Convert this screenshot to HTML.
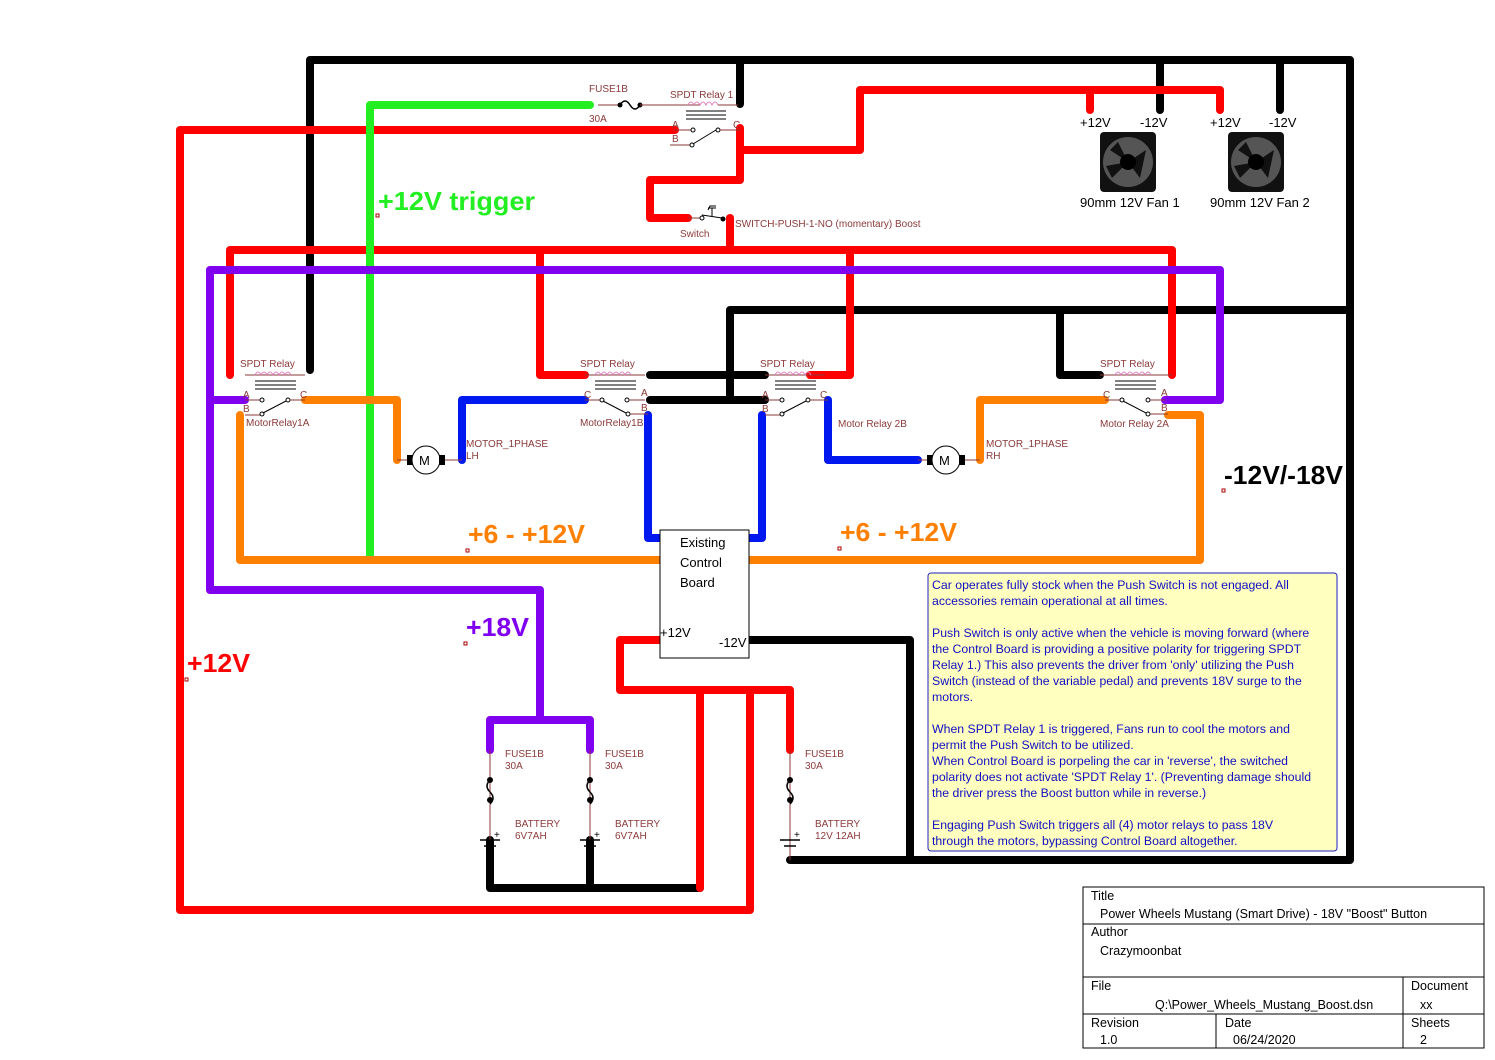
<!DOCTYPE html>
<html><head><meta charset="utf-8"><style>
html,body{margin:0;padding:0;background:#fff;}
svg{display:block;}
.w{fill:none;stroke-width:8;stroke-linecap:round;stroke-linejoin:round;}
.t{fill:#8b3a3a;font-family:"Liberation Sans",sans-serif;font-size:10px;}
.thin{stroke:#8b3a3a;stroke-width:1;fill:none;}
.big{font-family:"Liberation Sans",sans-serif;font-weight:bold;font-size:26px;}
.n{fill:#1010c0;font-family:"Liberation Sans",sans-serif;font-size:12.3px;}
.tb{font-family:"Liberation Sans",sans-serif;font-size:12.5px;fill:#000;}
</style></head><body>
<svg width="1495" height="1060" viewBox="0 0 1495 1060" xmlns="http://www.w3.org/2000/svg">
<rect width="1495" height="1060" fill="#fff"/>

<g class="w" stroke="#000">
<polyline points="310,370 310,60 1350,60 1350,860 790,860"/>
<polyline points="740,60 740,104"/>
<polyline points="1160,60 1160,110"/>
<polyline points="1280,60 1280,110"/>
<polyline points="1350,310 730,310 730,400"/>
<polyline points="1060,310 1060,375 1100,375"/>
<polyline points="650,375 765,375"/>
<polyline points="650,400 765,400"/>
<polyline points="490,840 490,888 700,888"/>
<polyline points="590,840 590,888"/>
<polyline points="748,640 910,640 910,860"/>
</g>

<g class="w" stroke="#f00">
<polyline points="675,130 180,130 180,910 750,910 750,690"/>
<polyline points="740,128 740,150 860,150 860,90 1220,90 1220,110"/>
<polyline points="1090,90 1090,110"/>
<polyline points="740,150 740,180 650,180 650,218 688,218"/>
<polyline points="730,218 730,250"/>
<polyline points="230,375 230,250 1172,250 1172,375"/>
<polyline points="540,250 540,375 585,375"/>
<polyline points="850,250 850,375 810,375"/>
<polyline points="662,640 620,640 620,690 790,690 790,750"/>
<polyline points="700,690 700,888"/>
</g>

<g class="w" stroke="#22ee22">
<polyline points="590,105 370,105 370,556"/>
</g>

<g class="w" stroke="#8000f0">
<polyline points="245,400 210,400"/>
<polyline points="1165,400 1220,400 1220,270 210,270 210,590 540,590 540,720"/>
<polyline points="490,750 490,720 590,720 590,750"/>
</g>

<g class="w" stroke="#ff8000">
<polyline points="240,415 240,560 662,560"/>
<polyline points="305,400 397,400 397,460"/>
<polyline points="1105,400 980,400 980,460"/>
<polyline points="1168,415 1200,415 1200,560 750,560"/>
</g>

<g class="w" stroke="#0018f0">
<polyline points="585,400 462,400 462,460"/>
<polyline points="648,415 648,538 662,538"/>
<polyline points="762,415 762,538 750,538"/>
<polyline points="828,400 828,460 918,460"/>
</g>

<g>
<line x1="598" y1="105" x2="620" y2="105" class="thin"/>
<path d="M620,105 q5,-8 10,0 q5,8 10,0" stroke="#000" stroke-width="1.5" fill="none"/>
<circle cx="620" cy="105" r="2.5" fill="#000"/><circle cx="640" cy="105" r="2.5" fill="#000"/>
<line x1="640" y1="105" x2="700" y2="105" class="thin"/>
<path d="M688,105 q3,-6 6,0 q3,-6 6,0 q3,-6 6,0 q3,-6 6,0 q3,-6 6,0" stroke="#e080c0" fill="none"/>
<line x1="718" y1="105" x2="738" y2="105" class="thin"/>
<line x1="686" y1="111" x2="726" y2="111" stroke="#000"/>
<line x1="686" y1="115" x2="726" y2="115" stroke="#000"/>
<line x1="686" y1="119" x2="726" y2="119" stroke="#000"/>
<line x1="675" y1="130" x2="692" y2="130" class="thin"/><circle cx="693" cy="130" r="2" fill="#fff" stroke="#000"/>
<line x1="670" y1="145" x2="690" y2="145" class="thin"/><circle cx="692" cy="145" r="2" fill="#fff" stroke="#000"/>
<line x1="693" y1="144" x2="716" y2="130" stroke="#000"/>
<circle cx="718" cy="130" r="2" fill="#fff" stroke="#000"/><line x1="720" y1="130" x2="740" y2="130" class="thin"/>
<text x="589" y="92" class="t">FUSE1B</text>
<text x="589" y="122" class="t">30A</text>
<text x="670" y="98" class="t">SPDT Relay 1</text>
<text x="672" y="128" class="t" fill="#000">A</text>
<text x="672" y="142" class="t" fill="#000">B</text>
<text x="733" y="128" class="t" fill="#000">C</text>
</g>

<g>
<line x1="688" y1="218" x2="700" y2="218" class="thin"/>
<circle cx="702" cy="218" r="2" fill="#fff" stroke="#000"/>
<line x1="702" y1="215" x2="722" y2="218" stroke="#000"/>
<circle cx="723" cy="219" r="2.5" fill="#000"/>
<polyline points="712,216 712,208 708,208 712,208 716,208" stroke="#000" fill="none"/>
<polyline points="708,210 710,206 716,206" stroke="#000" fill="none"/>
<text x="680" y="237" class="t">Switch</text>
<text x="735" y="227" class="t">SWITCH-PUSH-1-NO (momentary) Boost</text>
</g>

<g>
<line x1="245" y1="375" x2="305" y2="375" class="thin"/>
<path d="M255,375 q3,-6 6,0 q3,-6 6,0 q3,-6 6,0 q3,-6 6,0 q3,-6 6,0 q3,-6 6,0" stroke="#e080c0" fill="none"/>
<line x1="255" y1="381" x2="296" y2="381" stroke="#000"/><line x1="255" y1="385" x2="296" y2="385" stroke="#000"/><line x1="255" y1="389" x2="296" y2="389" stroke="#000"/>
<line x1="245" y1="400" x2="260" y2="400" class="thin"/><circle cx="262" cy="400" r="2" fill="#fff" stroke="#000"/>
<line x1="245" y1="415" x2="260" y2="415" class="thin"/><circle cx="262" cy="414" r="2" fill="#fff" stroke="#000"/>
<line x1="263" y1="413" x2="286" y2="401" stroke="#000"/><circle cx="288" cy="400" r="2" fill="#fff" stroke="#000"/>
<line x1="290" y1="400" x2="305" y2="400" class="thin"/>
<text x="240" y="367" class="t">SPDT Relay</text>
<text x="243" y="398" class="t" fill="#000">A</text><text x="243" y="412" class="t" fill="#000">B</text><text x="300" y="398" class="t" fill="#000">C</text>
<text x="246" y="426" class="t">MotorRelay1A</text>
</g>
<g>
<line x1="585" y1="375" x2="645" y2="375" class="thin"/>
<path d="M595,375 q3,-6 6,0 q3,-6 6,0 q3,-6 6,0 q3,-6 6,0 q3,-6 6,0 q3,-6 6,0" stroke="#e080c0" fill="none"/>
<line x1="595" y1="381" x2="636" y2="381" stroke="#000"/><line x1="595" y1="385" x2="636" y2="385" stroke="#000"/><line x1="595" y1="389" x2="636" y2="389" stroke="#000"/>
<line x1="585" y1="400" x2="600" y2="400" class="thin"/><circle cx="602" cy="400" r="2" fill="#fff" stroke="#000"/>
<line x1="603" y1="401" x2="626" y2="413" stroke="#000"/>
<circle cx="627" cy="400" r="2" fill="#fff" stroke="#000"/><line x1="629" y1="400" x2="645" y2="400" class="thin"/>
<circle cx="628" cy="414" r="2" fill="#fff" stroke="#000"/><line x1="630" y1="414" x2="648" y2="414" class="thin"/>
<text x="580" y="367" class="t">SPDT Relay</text>
<text x="584" y="398" class="t" fill="#000">C</text><text x="641" y="396" class="t" fill="#000">A</text><text x="641" y="411" class="t" fill="#000">B</text>
<text x="580" y="426" class="t">MotorRelay1B</text>
</g>
<g>
<line x1="765" y1="375" x2="825" y2="375" class="thin"/>
<path d="M775,375 q3,-6 6,0 q3,-6 6,0 q3,-6 6,0 q3,-6 6,0 q3,-6 6,0 q3,-6 6,0" stroke="#e080c0" fill="none"/>
<line x1="775" y1="381" x2="816" y2="381" stroke="#000"/><line x1="775" y1="385" x2="816" y2="385" stroke="#000"/><line x1="775" y1="389" x2="816" y2="389" stroke="#000"/>
<line x1="765" y1="400" x2="780" y2="400" class="thin"/><circle cx="782" cy="400" r="2" fill="#fff" stroke="#000"/>
<line x1="765" y1="415" x2="780" y2="415" class="thin"/><circle cx="782" cy="414" r="2" fill="#fff" stroke="#000"/>
<line x1="783" y1="413" x2="806" y2="401" stroke="#000"/><circle cx="808" cy="400" r="2" fill="#fff" stroke="#000"/>
<line x1="810" y1="400" x2="828" y2="400" class="thin"/>
<text x="760" y="367" class="t">SPDT Relay</text>
<text x="762" y="398" class="t" fill="#000">A</text><text x="762" y="412" class="t" fill="#000">B</text><text x="820" y="398" class="t" fill="#000">C</text>
<text x="838" y="427" class="t">Motor Relay 2B</text>
</g>
<g>
<line x1="1100" y1="375" x2="1172" y2="375" class="thin"/>
<path d="M1115,375 q3,-6 6,0 q3,-6 6,0 q3,-6 6,0 q3,-6 6,0 q3,-6 6,0 q3,-6 6,0" stroke="#e080c0" fill="none"/>
<line x1="1115" y1="381" x2="1156" y2="381" stroke="#000"/><line x1="1115" y1="385" x2="1156" y2="385" stroke="#000"/><line x1="1115" y1="389" x2="1156" y2="389" stroke="#000"/>
<line x1="1105" y1="400" x2="1120" y2="400" class="thin"/><circle cx="1122" cy="400" r="2" fill="#fff" stroke="#000"/>
<line x1="1123" y1="401" x2="1146" y2="413" stroke="#000"/>
<circle cx="1148" cy="400" r="2" fill="#fff" stroke="#000"/><line x1="1150" y1="400" x2="1165" y2="400" class="thin"/>
<circle cx="1148" cy="414" r="2" fill="#fff" stroke="#000"/><line x1="1150" y1="414" x2="1168" y2="414" class="thin"/>
<text x="1100" y="367" class="t">SPDT Relay</text>
<text x="1103" y="398" class="t" fill="#000">C</text><text x="1161" y="396" class="t" fill="#000">A</text><text x="1161" y="411" class="t" fill="#000">B</text>
<text x="1100" y="427" class="t">Motor Relay 2A</text>
</g>

<g>
<line x1="397" y1="460" x2="408" y2="460" class="thin"/><rect x="407" y="455" width="6" height="10" fill="#000"/>
<circle cx="426" cy="460" r="14" fill="#fff" stroke="#000"/><text x="419" y="465" font-family="Liberation Sans" font-size="13">M</text>
<rect x="439" y="455" width="6" height="10" fill="#000"/><line x1="445" y1="460" x2="462" y2="460" class="thin"/>
<text x="466" y="447" class="t">MOTOR_1PHASE</text><text x="466" y="459" class="t">LH</text>
<line x1="918" y1="460" x2="928" y2="460" class="thin"/><rect x="927" y="455" width="6" height="10" fill="#000"/>
<circle cx="946" cy="460" r="14" fill="#fff" stroke="#000"/><text x="939" y="465" font-family="Liberation Sans" font-size="13">M</text>
<rect x="959" y="455" width="6" height="10" fill="#000"/><line x1="965" y1="460" x2="980" y2="460" class="thin"/>
<text x="986" y="447" class="t">MOTOR_1PHASE</text><text x="986" y="459" class="t">RH</text>
</g>

<rect x="660" y="530" width="89" height="128" fill="#fff" stroke="#000"/>
<text x="680" y="547" font-family="Liberation Sans" font-size="13">Existing</text>
<text x="680" y="567" font-family="Liberation Sans" font-size="13">Control</text>
<text x="680" y="587" font-family="Liberation Sans" font-size="13">Board</text>
<text x="660" y="637" font-family="Liberation Sans" font-size="13">+12V</text>
<text x="719" y="647" font-family="Liberation Sans" font-size="13">-12V</text>

<g>
<line x1="490" y1="750" x2="490" y2="840" class="thin"/>
<line x1="590" y1="750" x2="590" y2="840" class="thin"/>
<line x1="790" y1="750" x2="790" y2="860" class="thin"/>
</g>
<g stroke="#000" stroke-width="1.5" fill="none">
<path d="M490,780 q-6,6 0,12 q6,6 0,12"/><path d="M590,780 q-6,6 0,12 q6,6 0,12"/><path d="M790,780 q-6,6 0,12 q6,6 0,12"/>
</g>
<g fill="#000">
<circle cx="490" cy="780" r="3"/><circle cx="490" cy="800" r="3"/>
<circle cx="590" cy="780" r="3"/><circle cx="590" cy="800" r="3"/>
<circle cx="790" cy="780" r="3"/><circle cx="790" cy="800" r="3"/>
</g>
<g stroke="#000" stroke-width="1.5">
<line x1="480" y1="840" x2="500" y2="840"/><line x1="484" y1="846" x2="496" y2="846"/>
<line x1="580" y1="840" x2="600" y2="840"/><line x1="584" y1="846" x2="596" y2="846"/>
<line x1="780" y1="840" x2="800" y2="840"/><line x1="784" y1="846" x2="796" y2="846"/>
</g>
<g class="t">
<text x="505" y="757">FUSE1B</text><text x="505" y="769">30A</text>
<text x="605" y="757">FUSE1B</text><text x="605" y="769">30A</text>
<text x="805" y="757">FUSE1B</text><text x="805" y="769">30A</text>
<text x="515" y="827">BATTERY</text><text x="515" y="839">6V7AH</text>
<text x="615" y="827">BATTERY</text><text x="615" y="839">6V7AH</text>
<text x="815" y="827">BATTERY</text><text x="815" y="839">12V 12AH</text>
<text x="494" y="838" fill="#000">+</text><text x="594" y="838" fill="#000">+</text><text x="794" y="838" fill="#000">+</text>
</g>

<g>
<rect x="1100" y="132" width="56" height="60" rx="4" fill="#111"/>
<circle cx="1128" cy="162" r="25" fill="#555"/>
<path d="M1128,162 L1110,150 L1118,142 Z M1128,162 L1146,150 L1140,178 Z M1128,162 L1112,178 L1106,166 Z" fill="#111"/>
<circle cx="1128" cy="162" r="8" fill="#000"/>
<rect x="1228" y="132" width="56" height="60" rx="4" fill="#111"/>
<circle cx="1256" cy="162" r="25" fill="#555"/>
<path d="M1256,162 L1238,150 L1246,142 Z M1256,162 L1274,150 L1268,178 Z M1256,162 L1240,178 L1234,166 Z" fill="#111"/>
<circle cx="1256" cy="162" r="8" fill="#000"/>
<g font-family="Liberation Sans" font-size="13">
<text x="1080" y="127">+12V</text><text x="1140" y="127">-12V</text>
<text x="1210" y="127">+12V</text><text x="1269" y="127">-12V</text>
<text x="1080" y="207">90mm 12V Fan 1</text><text x="1210" y="207">90mm 12V Fan 2</text>
</g>
</g>

<text x="378" y="210" class="big" fill="#22ee22" textLength="157" lengthAdjust="spacingAndGlyphs">+12V trigger</text>
<text x="468" y="543" class="big" fill="#ff8000" textLength="117" lengthAdjust="spacingAndGlyphs">+6 - +12V</text>
<text x="840" y="541" class="big" fill="#ff8000" textLength="117" lengthAdjust="spacingAndGlyphs">+6 - +12V</text>
<text x="466" y="636" class="big" fill="#8000f0" textLength="63" lengthAdjust="spacingAndGlyphs">+18V</text>
<text x="187" y="672" class="big" fill="#f00" textLength="63" lengthAdjust="spacingAndGlyphs">+12V</text>
<text x="1224" y="484" class="big" fill="#000" textLength="119" lengthAdjust="spacingAndGlyphs">-12V/-18V</text>
<g fill="none" stroke="#a00" stroke-width="1">
<rect x="376" y="214" width="3" height="3"/><rect x="466" y="549" width="3" height="3"/><rect x="838" y="547" width="3" height="3"/>
<rect x="464" y="642" width="3" height="3"/><rect x="185" y="678" width="3" height="3"/><rect x="1222" y="489" width="3" height="3"/>
</g>

<rect x="928" y="573" width="409" height="278" rx="3" fill="#ffffc0" stroke="#2020c0"/>
<g class="n">
<text x="932" y="589">Car operates fully stock when the Push Switch is not engaged.  All</text>
<text x="932" y="605">accessories remain operational at all times.</text>
<text x="932" y="637">Push Switch is only active when the vehicle is moving forward (where</text>
<text x="932" y="653">the Control Board is providing a positive polarity for triggering SPDT</text>
<text x="932" y="669">Relay 1.)  This also prevents the driver from 'only' utilizing the Push</text>
<text x="932" y="685">Switch (instead of the variable pedal) and prevents 18V surge to the</text>
<text x="932" y="701">motors.</text>
<text x="932" y="733">When SPDT Relay 1 is triggered, Fans run to cool the motors and</text>
<text x="932" y="749">permit the Push Switch to be utilized.</text>
<text x="932" y="765">When Control Board is porpeling the car in 'reverse', the switched</text>
<text x="932" y="781">polarity does not activate 'SPDT Relay 1'.  (Preventing damage should</text>
<text x="932" y="797">the driver press the Boost button while in reverse.)</text>
<text x="932" y="829">Engaging Push Switch triggers all (4) motor relays to pass 18V</text>
<text x="932" y="845">through the motors, bypassing Control Board altogether.</text>
</g>

<g fill="none" stroke="#000" stroke-width="1">
<rect x="1083" y="887" width="401" height="161"/>
<line x1="1083" y1="924" x2="1484" y2="924"/>
<line x1="1083" y1="977" x2="1484" y2="977"/>
<line x1="1083" y1="1014" x2="1484" y2="1014"/>
<line x1="1403" y1="977" x2="1403" y2="1048"/>
<line x1="1216" y1="1014" x2="1216" y2="1048"/>
</g>
<g class="tb">
<text x="1091" y="900">Title</text>
<text x="1100" y="918">Power Wheels Mustang (Smart Drive) - 18V "Boost" Button</text>
<text x="1091" y="936">Author</text>
<text x="1100" y="955">Crazymoonbat</text>
<text x="1091" y="990">File</text>
<text x="1155" y="1009">Q:\Power_Wheels_Mustang_Boost.dsn</text>
<text x="1411" y="990">Document</text>
<text x="1420" y="1009">xx</text>
<text x="1091" y="1027">Revision</text>
<text x="1100" y="1044">1.0</text>
<text x="1225" y="1027">Date</text>
<text x="1233" y="1044">06/24/2020</text>
<text x="1411" y="1027">Sheets</text>
<text x="1420" y="1044">2</text>
</g>
</svg>
</body></html>
